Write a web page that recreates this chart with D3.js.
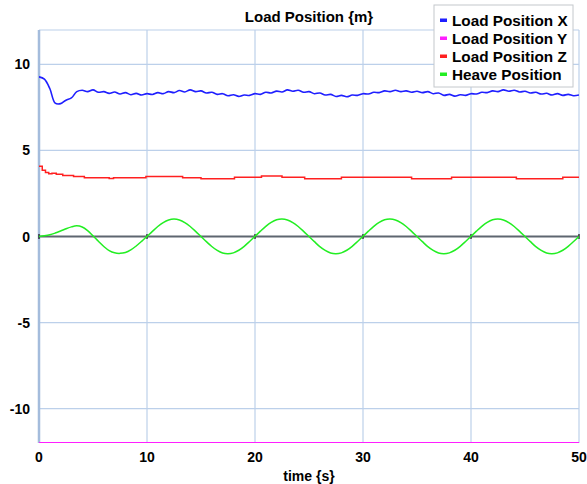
<!DOCTYPE html>
<html>
<head>
<meta charset="utf-8">
<script src="https://cdn.jsdelivr.net/npm/d3@7"></script>
<style>
  body { margin: 0; background: #fff; }
  svg { display: block; font-family: "Liberation Sans", Arial, sans-serif; font-weight: bold; }
</style>
</head>
<body>
<svg id="chart" width="587" height="484"></svg>
<script>
// samples every 0.5 s, t = 0 .. 50
var sampleStep = 0.5;

var loadX = [
  9.28, 9.15, 8.60, 7.75, 7.72, 7.92, 8.05, 8.42, 8.50, 8.42,
  8.52, 8.38, 8.42, 8.32, 8.40, 8.28, 8.36, 8.24, 8.32, 8.22,
  8.30, 8.25, 8.36, 8.30, 8.42, 8.36, 8.48, 8.40, 8.52, 8.42,
  8.46, 8.34, 8.38, 8.26, 8.30, 8.18, 8.24, 8.14, 8.22, 8.20,
  8.30, 8.26, 8.38, 8.34, 8.45, 8.40, 8.52, 8.44, 8.50, 8.38,
  8.42, 8.30, 8.34, 8.22, 8.26, 8.14, 8.20, 8.12, 8.22, 8.20,
  8.30, 8.28, 8.38, 8.36, 8.46, 8.42, 8.50, 8.42, 8.46, 8.38,
  8.44, 8.36, 8.42, 8.30, 8.34, 8.20, 8.26, 8.16, 8.24, 8.20,
  8.30, 8.28, 8.38, 8.36, 8.46, 8.42, 8.52, 8.44, 8.50, 8.40,
  8.44, 8.34, 8.38, 8.28, 8.32, 8.22, 8.30, 8.20, 8.26, 8.18,
  8.22
];

var heave = [
  0.00, 0.04, 0.10, 0.20, 0.32, 0.45, 0.56, 0.62, 0.55, 0.34,
  0.04, -0.28, -0.58, -0.82, -0.95, -0.98, -0.93, -0.78, -0.55, -0.28,
  0.01, 0.30, 0.58, 0.81, 0.96, 1.01, 0.96, 0.81, 0.58, 0.30,
  0.00, -0.30, -0.58, -0.81, -0.96, -1.00, -0.95, -0.80, -0.57, -0.29,
  0.01, 0.31, 0.59, 0.82, 0.97, 1.01, 0.96, 0.81, 0.58, 0.30,
  0.00, -0.30, -0.59, -0.81, -0.96, -1.00, -0.95, -0.80, -0.57, -0.29,
  0.01, 0.31, 0.59, 0.82, 0.97, 1.01, 0.96, 0.81, 0.58, 0.30,
  0.00, -0.30, -0.59, -0.81, -0.96, -1.00, -0.95, -0.80, -0.57, -0.29,
  0.01, 0.31, 0.59, 0.82, 0.97, 1.01, 0.96, 0.81, 0.58, 0.30,
  0.00, -0.30, -0.59, -0.81, -0.96, -1.00, -0.95, -0.80, -0.57, -0.29,
  0.00
];

// Z is stepwise, given as breakpoints
var loadZTime  = [0, 0.3, 0.6, 0.9, 1.2, 1.6, 2.2, 3.2, 4.2, 6.5, 6.9, 9.9, 13.3, 15.0, 18.1, 20.6, 22.5, 24.6, 28.0, 34.5, 38.2, 44.2, 48.5, 50];
var loadZValue = [4.08, 3.85, 3.72, 3.65, 3.68, 3.62, 3.55, 3.48, 3.42, 3.37, 3.42, 3.48, 3.42, 3.36, 3.44, 3.52, 3.44, 3.36, 3.44, 3.36, 3.44, 3.36, 3.44, 3.44];

// Y sits off the bottom of the scale
var loadYTime  = [0, 50];
var loadYValue = [-12, -12];

var xTicks = [0, 10, 20, 30, 40, 50];
var yTicks = [-10, -5, 0, 5, 10];

var legendNames  = ["Load Position X", "Load Position Y", "Load Position Z", "Heave Position"];
var legendColors = ["#1f1fff", "#ff1fff", "#ff2020", "#22ee22"];

var svg = d3.select("#chart");

var x = d3.scaleLinear().domain([0, 50]).range([39, 579]);
var y = d3.scaleLinear().domain([-12, 12]).range([443, 30]);

// grid
svg.append("g").selectAll("line")
  .data(xTicks)
  .enter().append("line")
    .attr("x1", function(d) { return x(d); })
    .attr("x2", function(d) { return x(d); })
    .attr("y1", y(12))
    .attr("y2", y(-12))
    .style("stroke", "#bcd0ea")
    .style("stroke-width", 1.2);

svg.append("g").selectAll("line")
  .data(yTicks.filter(function(d) { return d !== 0; }).concat([12]))
  .enter().append("line")
    .attr("x1", x(0))
    .attr("x2", x(50))
    .attr("y1", function(d) { return y(d); })
    .attr("y2", function(d) { return y(d); })
    .style("stroke", "#bcd0ea")
    .style("stroke-width", 1.2);

// left axis line
svg.append("line")
  .attr("x1", x(0)).attr("x2", x(0))
  .attr("y1", y(12)).attr("y2", y(-12))
  .style("stroke", "#a4bcdc")
  .style("stroke-width", 2.5);

// zero line
svg.append("line")
  .attr("x1", x(0)).attr("x2", x(50))
  .attr("y1", y(0)).attr("y2", y(0))
  .style("stroke", "#5e6670")
  .style("stroke-width", 2);

svg.append("g").selectAll("line")
  .data(xTicks)
  .enter().append("line")
    .attr("x1", function(d) { return x(d); })
    .attr("x2", function(d) { return x(d); })
    .attr("y1", y(0) - 2.5)
    .attr("y2", y(0) + 2.5)
    .style("stroke", "#111")
    .style("stroke-width", 1.2);

// series
svg.append("clipPath").attr("id", "clip")
  .append("rect")
    .attr("x", x(0)).attr("y", y(12) - 2)
    .attr("width", x(50) - x(0)).attr("height", y(-12) - y(12) + 2);

var plot = svg.append("g").attr("clip-path", "url(#clip)");

var sampled = d3.line()
  .x(function(d, i) { return x(i * sampleStep); })
  .y(function(d) { return y(d); })
  .curve(d3.curveCatmullRom);

var stepped = d3.line()
  .x(function(d) { return x(d[0]); })
  .y(function(d) { return y(d[1]); })
  .curve(d3.curveStepAfter);

plot.append("path")
  .attr("d", stepped(d3.zip(loadYTime, loadYValue)))
  .style("fill", "none")
  .style("stroke", legendColors[1])
  .style("stroke-width", 2);

plot.append("path")
  .attr("d", stepped(d3.zip(loadZTime, loadZValue)))
  .style("fill", "none")
  .style("stroke", legendColors[2])
  .style("stroke-width", 1.5);

plot.append("path")
  .attr("d", sampled(heave))
  .style("fill", "none")
  .style("stroke", legendColors[3])
  .style("stroke-width", 1.5);

plot.append("path")
  .attr("d", sampled(loadX))
  .style("fill", "none")
  .style("stroke", legendColors[0])
  .style("stroke-width", 1.6);

// tick labels
svg.append("g").selectAll("text")
  .data(yTicks)
  .enter().append("text")
    .attr("x", 30)
    .attr("y", function(d) { return y(d) + 5; })
    .attr("text-anchor", "end")
    .style("font-size", "14px")
    .text(function(d) { return d; });

svg.append("g").selectAll("text")
  .data(xTicks)
  .enter().append("text")
    .attr("x", function(d) { return x(d); })
    .attr("y", 462)
    .attr("text-anchor", "middle")
    .style("font-size", "14px")
    .text(function(d) { return d; });

svg.append("text")
  .attr("x", (x(0) + x(50)) / 2)
  .attr("y", 481)
  .attr("text-anchor", "middle")
  .style("font-size", "14px")
  .text("time {s}");

svg.append("text")
  .attr("x", (x(0) + x(50)) / 2)
  .attr("y", 22)
  .attr("text-anchor", "middle")
  .style("font-size", "15px")
  .text("Load Position {m}");

// legend
var legend = svg.append("g").attr("transform", "translate(434,5)");

legend.append("rect")
  .attr("width", 139).attr("height", 82)
  .style("fill", "#fff")
  .style("stroke", "#c4c8cc")
  .style("stroke-width", 1);

var item = legend.selectAll(".item")
  .data(legendNames)
  .enter().append("g")
    .attr("class", "item")
    .attr("transform", function(d, i) { return "translate(0," + (15 + i * 18) + ")"; });

item.append("rect")
  .attr("x", 6).attr("y", -1.5)
  .attr("width", 7).attr("height", 3.5)
  .style("fill", function(d, i) { return legendColors[i]; });

item.append("text")
  .attr("x", 18)
  .attr("y", 5.5)
  .style("font-size", "15.3px")
  .text(function(d) { return d; });
</script>
</body>
</html>
